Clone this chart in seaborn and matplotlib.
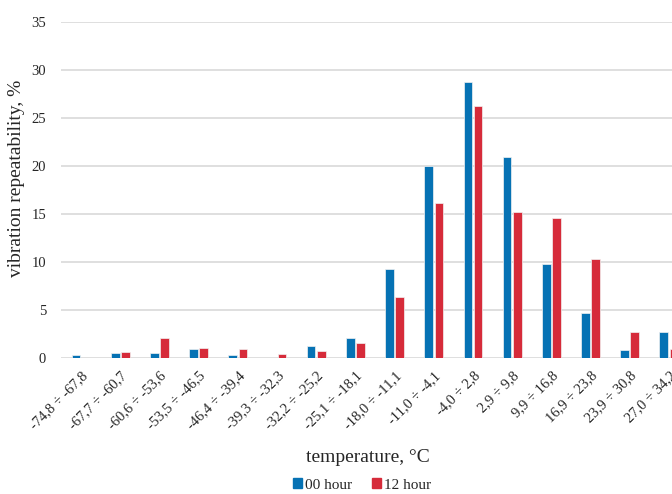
import matplotlib
matplotlib.use("Agg")
import matplotlib.pyplot as plt
import seaborn as sns
import pandas as pd

categories = ["-74,8 ÷ -67,8", "-67,7 ÷ -60,7", "-60,6 ÷ -53,6", "-53,5 ÷ -46,5",
              "-46,4 ÷ -39,4", "-39,3 ÷ -32,3", "-32,2 ÷ -25,2", "-25,1 ÷ -18,1",
              "-18,0 ÷ -11,1", "-11,0 ÷ -4,1", "-4,0 ÷ 2,8", "2,9 ÷ 9,8",
              "9,9 ÷ 16,8", "16,9 ÷ 23,8", "23,9 ÷ 30,8", "27,0 ÷ 34,2"]
hour00 = [0.3, 0.5, 0.5, 0.9, 0.3, 0.0, 1.2, 2.1, 9.3, 20.0, 28.8, 20.9, 9.8, 4.7, 0.8, 2.7]
hour12 = [0.0, 0.6, 2.1, 1.0, 0.9, 0.4, 0.7, 1.6, 6.4, 16.1, 26.2, 15.2, 14.6, 10.3, 2.7, 0.9]
series = ["00 hour", "12 hour"]
colors = ["#0672B4", "#D62B3A"]

df = pd.DataFrame({
    "temperature": categories * 2,
    "value": hour00 + hour12,
    "series": [series[0]] * len(categories) + [series[1]] * len(categories),
})

sns.set_style("white")
plt.rcParams["font.family"] = ["Liberation Serif", "DejaVu Serif"]

fig = plt.figure(figsize=(6.72, 4.94), dpi=100)
# the original chart is cut off on the right, so the axes run past the figure edge
ax = fig.add_axes([61.5 / 672, (494 - 358) / 494, 627 / 672, 336 / 494])

sns.barplot(data=df, x="temperature", y="value", hue="series", palette=colors,
            saturation=1, width=0.52, gap=0.15, edgecolor="#F2F2F2", linewidth=0.5,
            ax=ax, legend=False)

ax.set_ylim(0, 35)
ax.set_yticks(range(0, 36, 5))
ax.yaxis.grid(True, color="#D9D9D9", linewidth=1.2)
ax.set_axisbelow(True)
for s in ax.spines.values():
    s.set_visible(False)
ax.tick_params(axis="both", length=0)
ax.tick_params(axis="y", labelsize=10.5, pad=11)
ax.set_xticks(range(len(categories)))
ax.set_xticklabels(categories, rotation=45, ha="right", rotation_mode="anchor", fontsize=10.5)
ax.tick_params(axis="x", pad=8)

ax.set_xlabel("")
ax.set_ylabel("")
fig.text(17 / 672, 1 - 178 / 494, "vibration repeatability, %", rotation=90,
         ha="center", va="center", fontsize=14)
fig.text(368 / 672, 1 - 457 / 494, "temperature, °C", ha="center", va="center", fontsize=14)

handles = [plt.Rectangle((0, 0), 1, 1, color=c) for c in colors]
fig.legend(handles, series, loc="center", bbox_to_anchor=(362 / 672, 1 - 485 / 494),
           ncol=2, frameon=False, fontsize=11, handlelength=0.6, handleheight=0.6,
           handletextpad=0.2, columnspacing=1.3, borderpad=0)

fig.savefig("out.png", dpi=100)
